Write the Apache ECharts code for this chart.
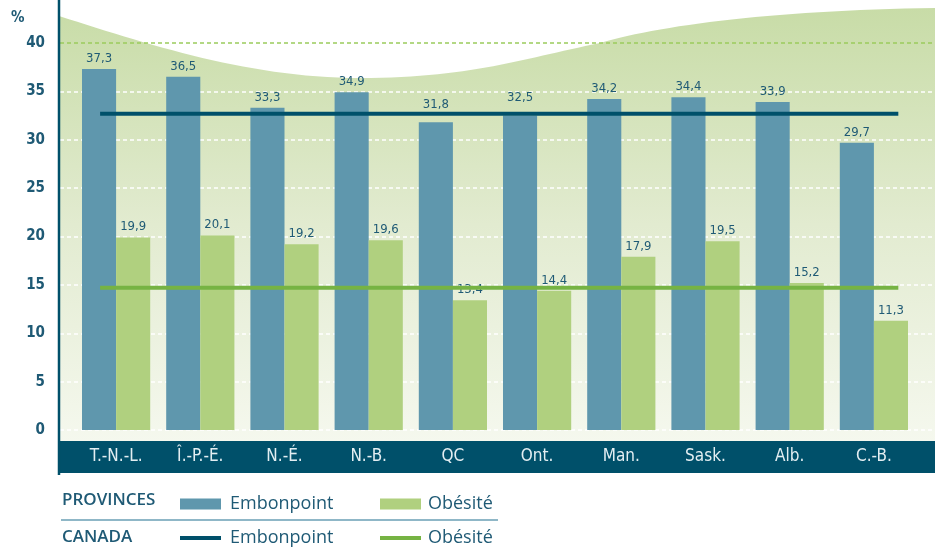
<!DOCTYPE html>
<html>
<head>
    <meta charset="utf-8">
    <script src="https://cdn.jsdelivr.net/npm/echarts@6/dist/echarts.min.js"></script>
    <style>
        html, body { margin: 0; padding: 0; background: #ffffff; }
    </style>
</head>
<body>
<div id="main" style="width: 935px;height:551px;"></div>

<script type="text/javascript">
    // données
    var provinces = ['T.-N.-L.', 'Î.-P.-É.', 'N.-É.', 'N.-B.', 'QC', 'Ont.', 'Man.', 'Sask.', 'Alb.', 'C.-B.'];
    var embonpoint = [37.3, 36.5, 33.3, 34.9, 31.8, 32.5, 34.2, 34.4, 33.9, 29.7];
    var obesite = [19.9, 20.1, 19.2, 19.6, 13.4, 14.4, 17.9, 19.5, 15.2, 11.3];
    var canadaEmbonpoint = 32.7;
    var canadaObesite = 14.7;
    var yTicks = [0, 5, 10, 15, 20, 25, 30, 35, 40];

    var dark = '#00506a';
    var textColor = '#1f5a75';
    var blue = '#5f97ad';
    var green = '#b0d07f';
    var greenLine = '#76b343';
    var narrow = "'Liberation Sans Narrow', 'DejaVu Sans Condensed', sans-serif";
    var humanist = "'Open Sans', Lato, sans-serif";

    // la ligne canadienne va d'un peu avant la 1re catégorie à un peu après la dernière
    var lineFrom = -0.19, lineTo = 9.29;

    function virgule(v) {
        return v.toFixed(1).replace('.', ',');
    }

    // fond vert ondulé (décor) : courbes de Bézier échantillonnées
    function vague() {
        var segs = [
            [[59, 16], [150, 45], [250, 78], [360, 78]],
            [[360, 78], [470, 78], [525, 58], [600, 43]],
            [[600, 43], [660, 25], [780, 10], [935, 8]]
        ];
        var pts = [];
        segs.forEach(function (s) {
            for (var i = 0; i <= 30; i++) {
                var t = i / 30, u = 1 - t;
                var a = u * u * u, b = 3 * u * u * t, c = 3 * u * t * t, d = t * t * t;
                pts.push([a * s[0][0] + b * s[1][0] + c * s[2][0] + d * s[3][0],
                          a * s[0][1] + b * s[1][1] + c * s[2][1] + d * s[3][1]]);
            }
        });
        pts.push([935, 441], [59, 441]);
        return pts;
    }

    // étiquette remontée quand la barre finit juste sous la ligne du Canada
    var embonpointData = embonpoint.map(function (v) {
        var d = canadaEmbonpoint - v;
        return d > 0 && d < 1.5 ? { value: v, label: { distance: 11 } } : v;
    });

    var dom = document.getElementById("main");
    var myChart = echarts.init(dom);

    var gridColors = yTicks.map(function (t) { return t === 40 ? '#9acb5c' : '#ffffff'; });

    var barLabel = {
        show: true, position: 'top', distance: 4, color: textColor,
        fontSize: 13, fontFamily: narrow,
        formatter: function (p) { return virgule(p.value); }
    };

    var option = {
        animation: false,
        graphic: [
            {
                type: 'polygon', z: -10, silent: true,
                shape: { points: vague() },
                style: {
                    fill: {
                        type: 'linear', x: 0, y: 0, x2: 0, y2: 1,
                        colorStops: [
                            { offset: 0, color: '#c8dca7' },
                            { offset: 0.5, color: '#e2ebd0' },
                            { offset: 1, color: '#f5f8ee' }
                        ]
                    }
                }
            },
            {
                type: 'rect', z: 5, silent: true,
                shape: { x: 59, y: 441, width: 876, height: 32 },
                style: { fill: dark }
            },
            {
                type: 'line', z: 6, silent: true,
                shape: { x1: 59, y1: 0, x2: 59, y2: 475 },
                style: { stroke: dark, lineWidth: 2.5 }
            },
            {
                type: 'text', left: 11, top: 11,
                style: { text: '%', fill: textColor, font: 'bold 15px ' + narrow }
            },
            {
                type: 'text', left: 62, top: 492,
                style: { text: 'PROVINCES', fill: textColor, font: '600 17px ' + humanist }
            },
            {
                type: 'line', silent: true,
                shape: { x1: 61, y1: 520, x2: 498, y2: 520 },
                style: { stroke: '#6a9fb5', lineWidth: 1.5 }
            },
            {
                type: 'text', left: 62, top: 529,
                style: { text: 'CANADA', fill: textColor, font: '600 17px ' + humanist }
            }
        ],
        legend: [
            {
                data: ['Embonpoint'], left: 175, top: 490, selectedMode: false,
                icon: 'rect', itemWidth: 41, itemHeight: 11,
                textStyle: { color: textColor, fontSize: 18, fontFamily: humanist, padding: [0, 0, 0, 4] }
            },
            {
                data: ['Obésité'], left: 375, top: 490, selectedMode: false,
                icon: 'rect', itemWidth: 41, itemHeight: 11,
                textStyle: { color: textColor, fontSize: 18, fontFamily: humanist, padding: [0, 0, 0, 2] }
            },
            {
                data: ['Embonpoint '], left: 175, top: 524, selectedMode: false,
                icon: 'rect', itemWidth: 41, itemHeight: 4,
                formatter: function (n) { return n.trim(); },
                textStyle: { color: textColor, fontSize: 18, fontFamily: humanist, padding: [0, 0, 0, 4] }
            },
            {
                data: ['Obésité '], left: 375, top: 524, selectedMode: false,
                icon: 'rect', itemWidth: 41, itemHeight: 4,
                formatter: function (n) { return n.trim(); },
                textStyle: { color: textColor, fontSize: 18, fontFamily: humanist, padding: [0, 0, 0, 2] }
            }
        ],
        grid: [
            { left: 60, right: 0, top: 43, bottom: 121 },
            { left: 74, right: 19, top: 43, bottom: 121 }
        ],
        xAxis: [
            { gridIndex: 0, type: 'value', show: false, min: 0, max: 1 },
            {
                gridIndex: 1, type: 'category', data: provinces,
                axisLine: { show: false }, axisTick: { show: false },
                axisLabel: { color: '#e3eef2', fontSize: 17, fontFamily: narrow, margin: 18 },
                z: 10
            },
            { gridIndex: 1, type: 'value', show: false, min: -0.5, max: 9.5 }
        ],
        yAxis: [
            {
                gridIndex: 0, type: 'value', min: 0, max: 40, interval: 5,
                axisLine: { show: false }, axisTick: { show: false },
                axisLabel: { color: textColor, fontSize: 15, fontWeight: 'bold', fontFamily: narrow, margin: 15 },
                splitLine: { lineStyle: { color: gridColors, type: [4, 3], width: 1.5 } }
            },
            { gridIndex: 1, type: 'value', min: 0, max: 40, interval: 5, show: false, splitLine: { show: false } }
        ],
        series: [
            {
                name: 'Embonpoint', type: 'bar', xAxisIndex: 1, yAxisIndex: 1,
                data: embonpointData, barGap: '0%', barCategoryGap: '19%',
                itemStyle: { color: blue },
                label: barLabel
            },
            {
                name: 'Obésité', type: 'bar', xAxisIndex: 1, yAxisIndex: 1,
                data: obesite, barGap: '0%', barCategoryGap: '19%',
                itemStyle: { color: green },
                label: barLabel
            },
            {
                name: 'Embonpoint ', type: 'line', xAxisIndex: 2, yAxisIndex: 1, z: 5,
                data: [[lineFrom, canadaEmbonpoint], [lineTo, canadaEmbonpoint]],
                symbol: 'none', itemStyle: { color: dark },
                lineStyle: { color: dark, width: 4 }
            },
            {
                name: 'Obésité ', type: 'line', xAxisIndex: 2, yAxisIndex: 1, z: 5,
                data: [[lineFrom, canadaObesite], [lineTo, canadaObesite]],
                symbol: 'none', itemStyle: { color: greenLine },
                lineStyle: { color: greenLine, width: 4 }
            }
        ]
    };

    if (option && typeof option === "object") {
        myChart.setOption(option, true);
    }
</script>
</body>
</html>
